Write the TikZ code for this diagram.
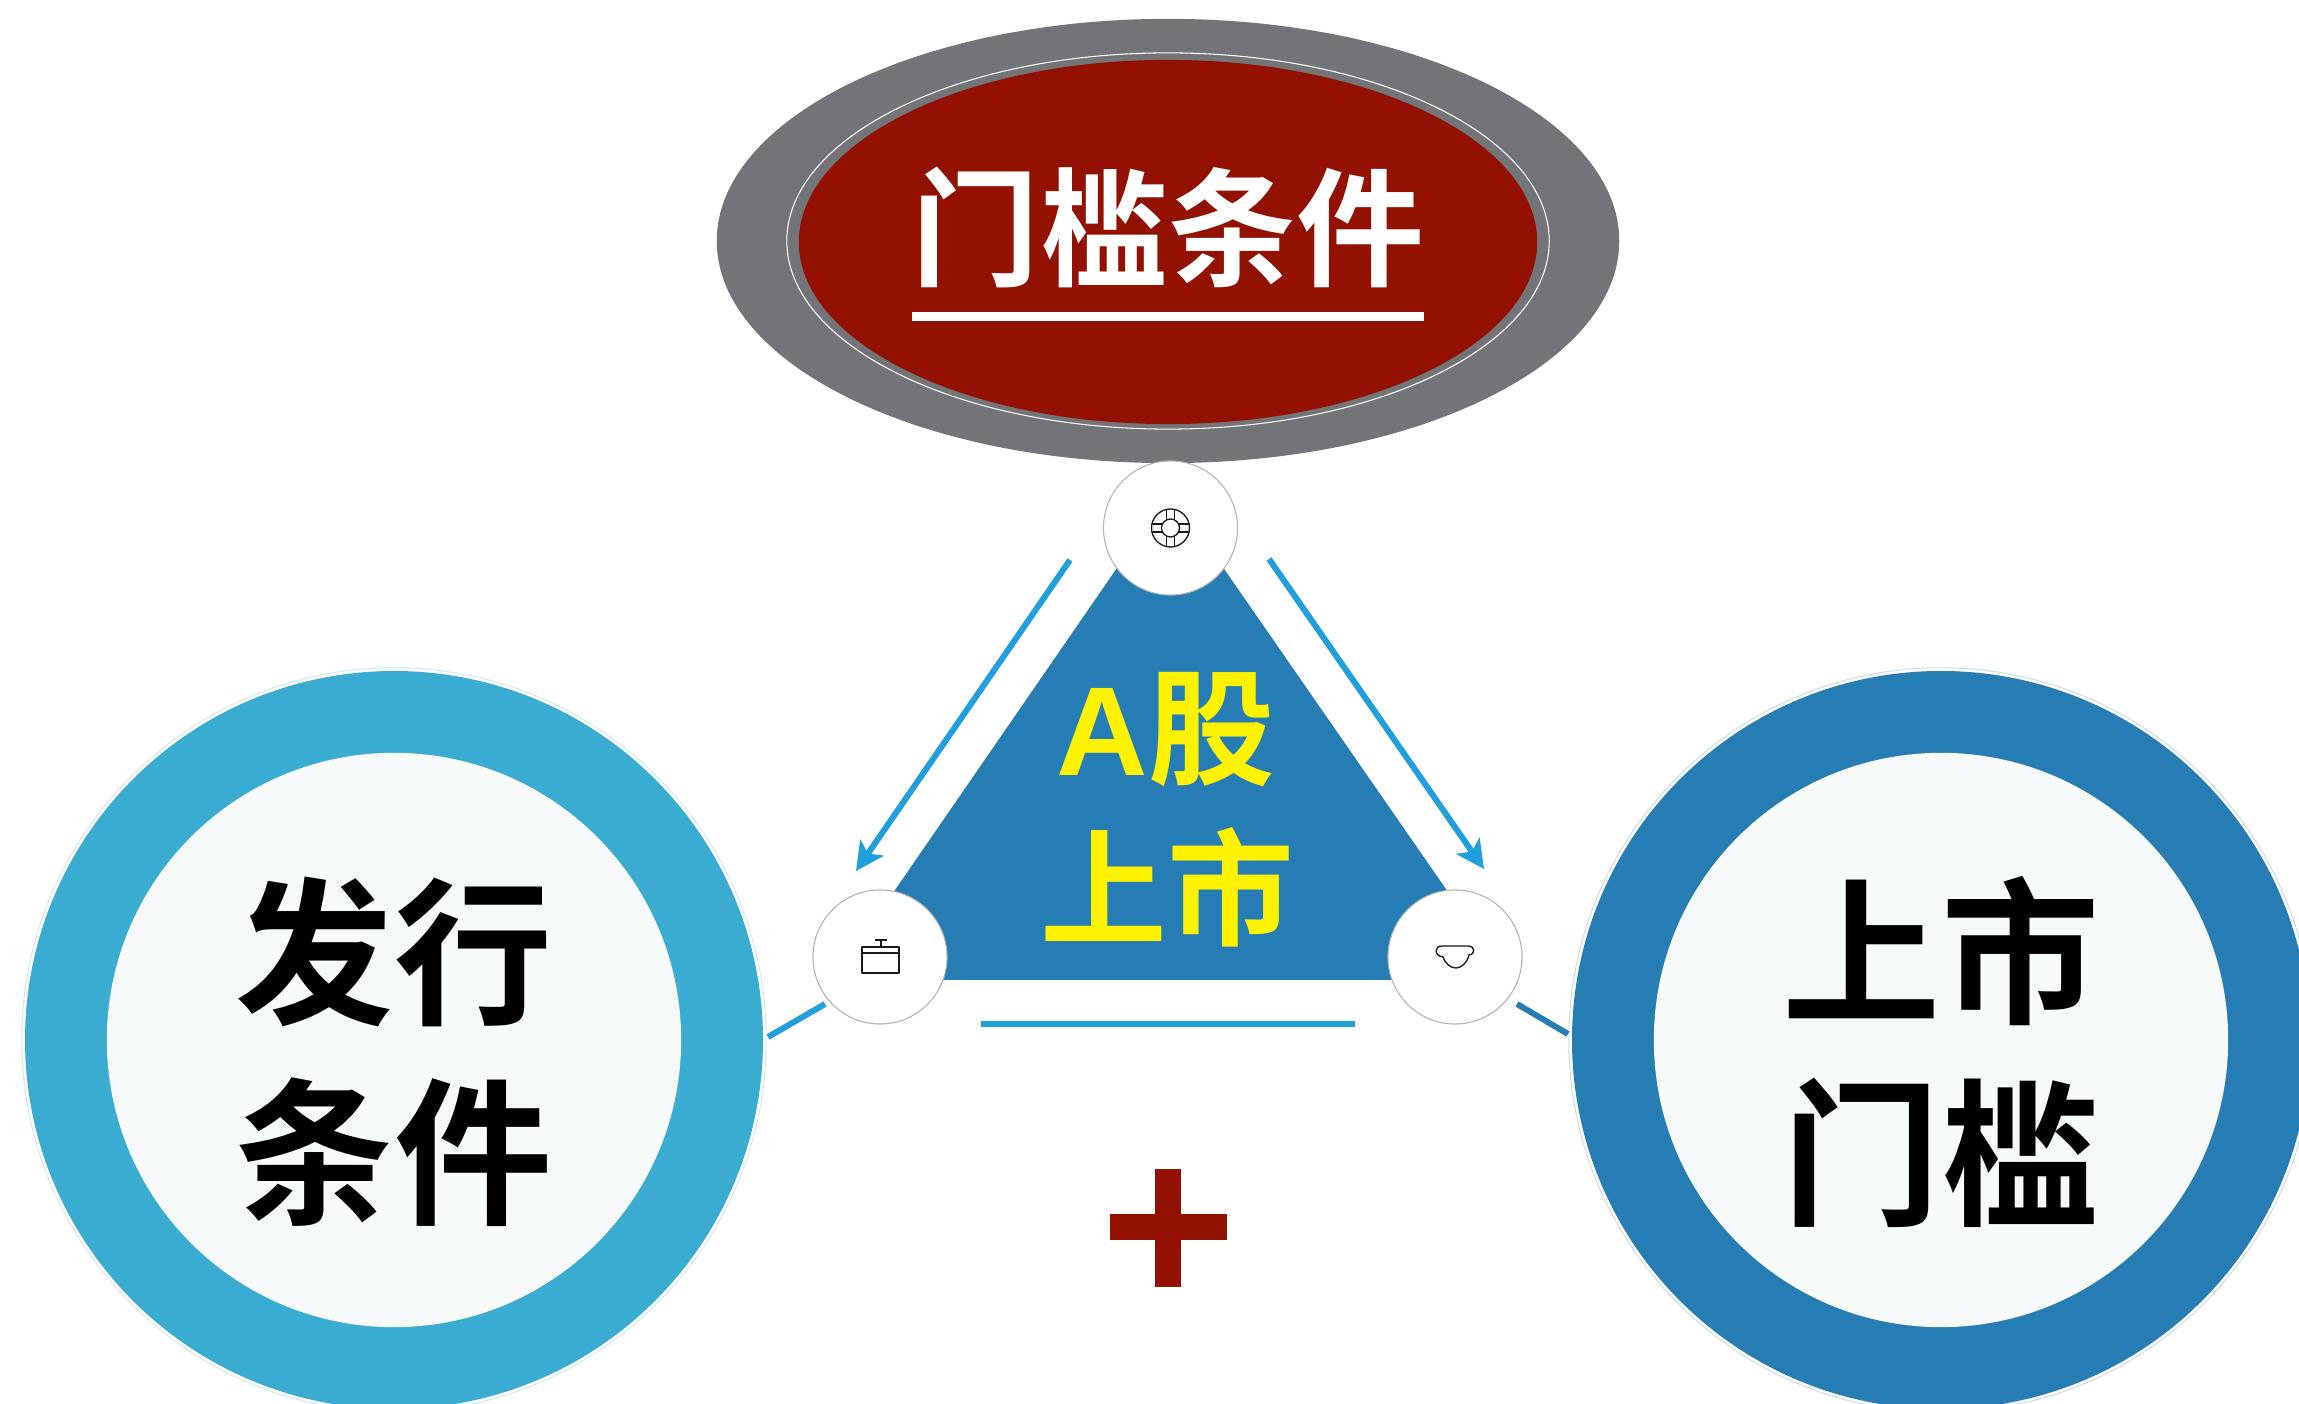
\documentclass[tikz,border=0pt]{standalone}
\usepackage{xcolor}
\usepackage{fontspec}
\usepackage{tikz}
\usetikzlibrary{arrows.meta,shapes.geometric}
\newfontfamily\cjk{Noto Sans CJK SC}[BoldFont={* Bold}]
\newfontfamily\latinbold{Liberation Sans Bold}
\definecolor{shellgray}{HTML}{737478}
\definecolor{titlered}{HTML}{931100}
\definecolor{deepblue}{HTML}{257DB4}
\definecolor{skyblue}{HTML}{3AACD2}
\definecolor{arrowblue}{HTML}{1F9FDC}
\definecolor{paleblue}{HTML}{F6FAFB}
\tikzset{
  hub/.style={circle, draw=black!30, line width=0.3pt, fill=white, minimum size=1.34cm, inner sep=0pt},
  ring/.style={circle, draw=#1!25, line width=0.3pt, minimum size=7.44cm, inner sep=0pt},
  core/.style={circle, fill=paleblue, minimum size=5.74cm, inner sep=0pt},
  corelabel/.style={align=center, text=black, font=\cjk\bfseries\fontsize{45}{56.9}\selectfont},
  icon/.style={line width=0.38pt, black!90},
  link/.style={line width=1.7pt}
}

\begin{document}
\begin{tikzpicture}[x=0.01cm, y=-0.01cm, line join = round]

                  \useasboundingbox (0,0) rectangle (2299,1404);

                  % title
                  \node [ellipse, fill=shellgray, minimum width=9.02cm, minimum height=4.44cm, inner sep=0pt] (shell) at (1168,241) {};
                  \node [ellipse, draw=white, line width=0.3pt, minimum width=7.62cm, minimum height=3.76cm, inner sep=0pt] (halo) at (1168,241) {};
                  \node [ellipse, fill=titlered, minimum width=7.38cm, minimum height=3.64cm, inner sep=0pt] (seal) at (1168,242) {};
                  \node [text=white, font=\cjk\bfseries\fontsize{36.4}{40}\selectfont] (title) at (1168,227) {门槛条件};
                  \coordinate (u0) at (912,316.5);
                  \coordinate (u1) at (1424,316.5);
                  \draw [white, line width=2.6pt] (u0) -- (u1);

                  % triangle
                  \coordinate (t0) at (1170,491);
                  \coordinate (t1) at (833,980);
                  \coordinate (t2) at (1509,980);
                  \fill [deepblue] (t0) -- (t1) -- (t2) -- cycle;
                  \node [text=yellow, font=\cjk\bfseries\fontsize{36}{40}\selectfont] (stock) at (1166,730) {{\latinbold A}股};
                  \node [text=yellow, font=\cjk\bfseries\fontsize{36}{40}\selectfont] (market) at (1167,887) {上市};

                  % small circles
                  \node [hub] (hubtop) at (1170.5,528) {};
                  \node [hub] (hubleft) at (880,957) {};
                  \node [hub] (hubright) at (1455,957) {};

                  % big circles
                  \node [ring=skyblue] (ringleft) at (394,1040) {};
                  \node [ring=deepblue] (ringright) at (1941,1040) {};
                  \fill [skyblue] (ringleft) circle [radius=369];
                  \fill [deepblue] (ringright) circle [radius=369];
                  \node [core] (issue) at (394,1040) {};
                  \node [core] (listing) at (1941,1040) {};
                  \node [corelabel] (issuetext) at (394,1052) {发行\\条件};
                  \node [corelabel] (listingtext) at (1941,1052) {上市\\门槛};

                  % arrows
                  \coordinate (a0) at (1070,560);
                  \coordinate (a1) at (856,871);
                  \coordinate (b0) at (1269,559);
                  \coordinate (b1) at (1484,869);
                  \draw [link, arrowblue, -{Stealth[length=8pt, width=8pt, inset=2pt]}] (a0) -- (a1);
                  \draw [link, arrowblue, -{Stealth[length=8pt, width=8pt, inset=2pt]}] (b0) -- (b1);

                  % short lines
                  \coordinate (c0) at (768,1037);
                  \coordinate (c1) at (825,1004);
                  \coordinate (d0) at (1517,1004);
                  \coordinate (d1) at (1568,1034);
                  \coordinate (e0) at (981,1024);
                  \coordinate (e1) at (1355,1024);
                  \draw [link, arrowblue] (c0) -- (c1);
                  \draw [link, deepblue] (d0) -- (d1);
                  \draw [link, arrowblue] (e0) -- (e1);

                  % plus
                  \fill [titlered] (1110,1214) rectangle (1227,1240);
                  \fill [titlered] (1155,1169) rectangle (1181,1287);

                  % lifebuoy
                  \begin{scope}[shift={(hubtop)}, icon]
                    \draw (0,0) circle [radius=19];
                    \draw (0,0) circle [radius=9];
                    \foreach \a in {0,90,180,270}
                    {
                      \begin{scope}[rotate=\a]
                        \draw (-4,-8) -- (-4,-18.6);
                        \draw (4,-8) -- (4,-18.6);
                      \end{scope}
                    }
                  \end{scope}

                  % box
                  \begin{scope}[shift={(hubleft)}, icon]
                    \draw (-18,-10) rectangle (19,16);
                    \draw (-18,-4) -- (19,-4);
                    \draw (1,-10) -- (1,-17);
                    \draw (-5,-17) -- (7,-17);
                  \end{scope}

                  % cap
                  \begin{scope}[shift={(hubright)}, icon]
                    \draw (-13,-11) -- (13,-11)
                      .. controls (20,-11) and (21,-3) .. (14,-2)
                      .. controls (12,6) and (6,11) .. (1,11)
                      .. controls (-5,11) and (-10,6) .. (-12,0)
                      .. controls (-21,-1) and (-21,-11) .. (-13,-11) -- cycle;
                  \end{scope}

                \end{tikzpicture}
\end{document}
